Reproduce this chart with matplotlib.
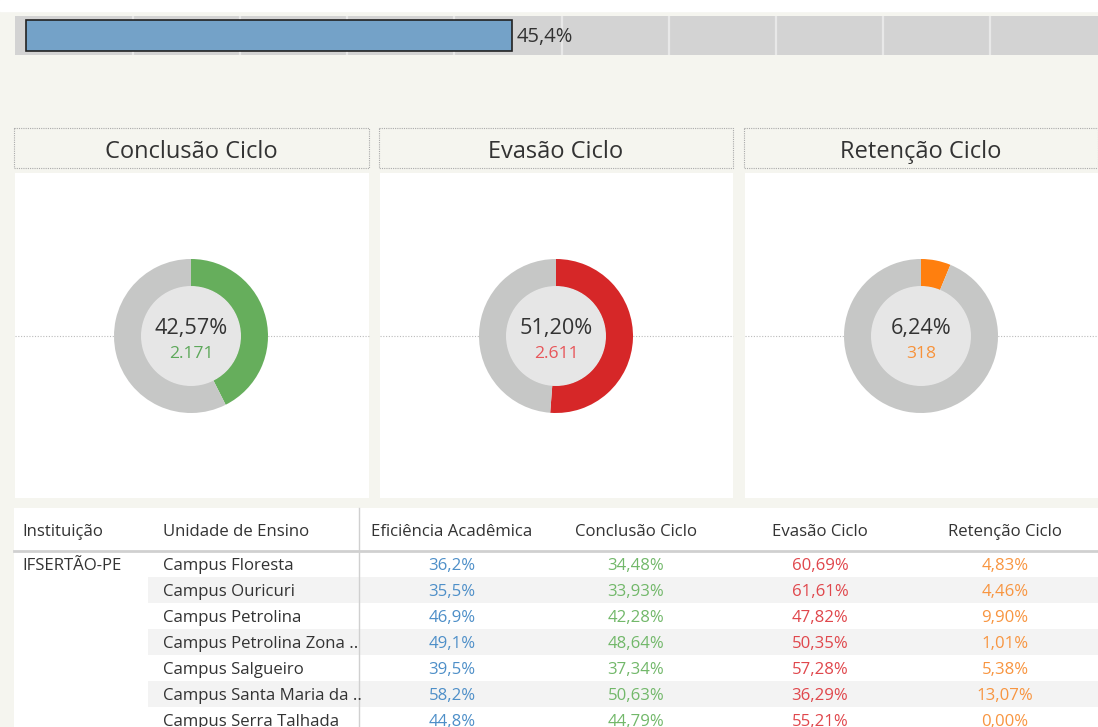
import matplotlib.pyplot as plt
from matplotlib.patches import Rectangle, Circle

W, H = 1098, 727

# data
eficiencia_total = 45.4
kpi_titles = ["Conclusão Ciclo", "Evasão Ciclo", "Retenção Ciclo"]
kpi_pct = [42.57, 51.20, 6.24]
kpi_count = ["2.171", "2.611", "318"]
kpi_colors = ["#66AE5C", "#D62728", "#FF7F0E"]
kpi_text_colors = ["#5DA85A", "#E8565A", "#F7923A"]

col_headers = ["Instituição", "Unidade de Ensino", "Eficiência Acadêmica",
               "Conclusão Ciclo", "Evasão Ciclo", "Retenção Ciclo"]
instituicao = "IFSERTÃO-PE"
unidades = ["Campus Floresta", "Campus Ouricuri", "Campus Petrolina",
            "Campus Petrolina Zona ..", "Campus Salgueiro",
            "Campus Santa Maria da ..", "Campus Serra Talhada"]
eficiencia = ["36,2%", "35,5%", "46,9%", "49,1%", "39,5%", "58,2%", "44,8%"]
conclusao = ["34,48%", "33,93%", "42,28%", "48,64%", "37,34%", "50,63%", "44,79%"]
evasao = ["60,69%", "61,61%", "47,82%", "50,35%", "57,28%", "36,29%", "55,21%"]
retencao = ["4,83%", "4,46%", "9,90%", "1,01%", "5,38%", "13,07%", "0,00%"]

plt.rcParams['font.family'] = ['Open Sans', 'DejaVu Sans']

fig = plt.figure(figsize=(W / 100, H / 100), dpi=100)
fig.patch.set_facecolor("#F5F5EF")


def rect(x0, y0, x1, y1):
    return [x0 / W, 1 - y1 / H, (x1 - x0) / W, (y1 - y0) / H]


# background axes in pixel coordinates
bg = fig.add_axes([0, 0, 1, 1])
bg.set_xlim(0, W)
bg.set_ylim(H, 0)
bg.axis("off")
bg.add_patch(Rectangle((0, 0), W, 11, color="white", zorder=0))

# panels for donuts
panel_x = [(14, 369), (379, 733), (744, 1098)]
centers_x = [191, 556, 921]
cy = 336
for i, (x0, x1) in enumerate(panel_x):
    bg.add_patch(Rectangle((x0, 128), x1 - x0, 40, facecolor="#F5F5EF",
                           edgecolor="#AAAAAA", lw=0.8, ls=(0, (1, 1)), zorder=1))
    bg.text((x0 + x1) / 2, 152, kpi_titles[i], ha="center", va="center",
            fontsize=17, color="#333333")
    bg.add_patch(Rectangle((x0 + 1, 173), x1 - x0 - 1, 325, facecolor="white",
                           edgecolor="none", zorder=1))
    bg.plot([x0 + 1, x1], [cy, cy], color="#BBBBBB", lw=0.8, ls=(0, (1, 1.5)), zorder=2)

# table area
bg.add_patch(Rectangle((14, 508), W - 14, H - 508, facecolor="white", edgecolor="none", zorder=1))
row_h = 26
first_row = 564
for r in range(len(unidades)):
    y = first_row + r * row_h
    if r % 2 == 1:
        bg.add_patch(Rectangle((148, y - 13), W - 148, row_h, facecolor="#F3F3F3",
                               edgecolor="none", zorder=2))
bg.plot([14, W], [551, 551], color="#D0D0D0", lw=2, zorder=3)
bg.plot([359, 359], [508, H], color="#D0D0D0", lw=1, zorder=3)

fs = 12.1
hdr_x = [22, 163, 452, 636, 820, 1005]
hdr_ha = ["left", "left", "center", "center", "center", "center"]
for x, ha, t in zip(hdr_x, hdr_ha, col_headers):
    bg.text(x, 532, t, ha=ha, va="center", fontsize=fs, color="#333333", zorder=4)

bg.text(22, first_row + 2, instituicao, ha="left", va="center", fontsize=fs,
        color="#333333", zorder=4)
cols = [(unidades, "#333333"), (eficiencia, "#4E8FC8"), (conclusao, "#72B86A"),
        (evasao, "#E0474C"), (retencao, "#F89540")]
for ci, (vals, c) in enumerate(cols):
    for r, v in enumerate(vals):
        bg.text(hdr_x[ci + 1], first_row + 2 + r * row_h, v, ha=hdr_ha[ci + 1],
                va="center", fontsize=fs, color=c, zorder=4)

# top bar
axb = fig.add_axes(rect(15, 16, 1098, 55))
axb.set_facecolor("#D3D3D3")
scale = (1097 - 26) / 100
axb.set_xlim(-(26 - 15) / scale, (1098 - 26) / scale)
axb.set_ylim(-0.5, 0.5)
for g in range(10, 100, 10):
    axb.axvline(g, color="#E8E8E8", lw=1.6, zorder=1)
axb.barh([0], [eficiencia_total], height=0.78, color="#74A2C8", edgecolor="#222222",
         lw=1.2, zorder=2)
axb.text(eficiencia_total + 0.4, -0.03, f"{eficiencia_total:.1f}%".replace(".", ","),
         va="center", ha="left", fontsize=14.5, color="#333333", zorder=3)
axb.set_xticks([])
axb.set_yticks([])
for s in axb.spines.values():
    s.set_visible(False)

# donuts
R = 77
for i in range(3):
    cx = centers_x[i]
    ax = fig.add_axes(rect(cx - 100, cy - 100, cx + 100, cy + 100))
    ax.axis("off")
    ax.pie([kpi_pct[i], 100 - kpi_pct[i]], colors=[kpi_colors[i], "#C6C7C6"],
           startangle=90, counterclock=False, radius=1,
           wedgeprops=dict(width=0.36, edgecolor="none"))
    ax.add_patch(Circle((0, 0), 0.64, color="#E6E6E6", zorder=3))
    ax.set_xlim(-100 / R, 100 / R)
    ax.set_ylim(-100 / R, 100 / R)
    ax.text(0, 0.1, f"{kpi_pct[i]:.2f}%".replace(".", ","), ha="center", va="center",
            fontsize=15.6, color="#333333", zorder=4)
    ax.text(0, -0.24, kpi_count[i], ha="center", va="center", fontsize=12.6,
            color=kpi_text_colors[i], zorder=4)

fig.savefig("out.png", dpi=100, facecolor=fig.get_facecolor())
